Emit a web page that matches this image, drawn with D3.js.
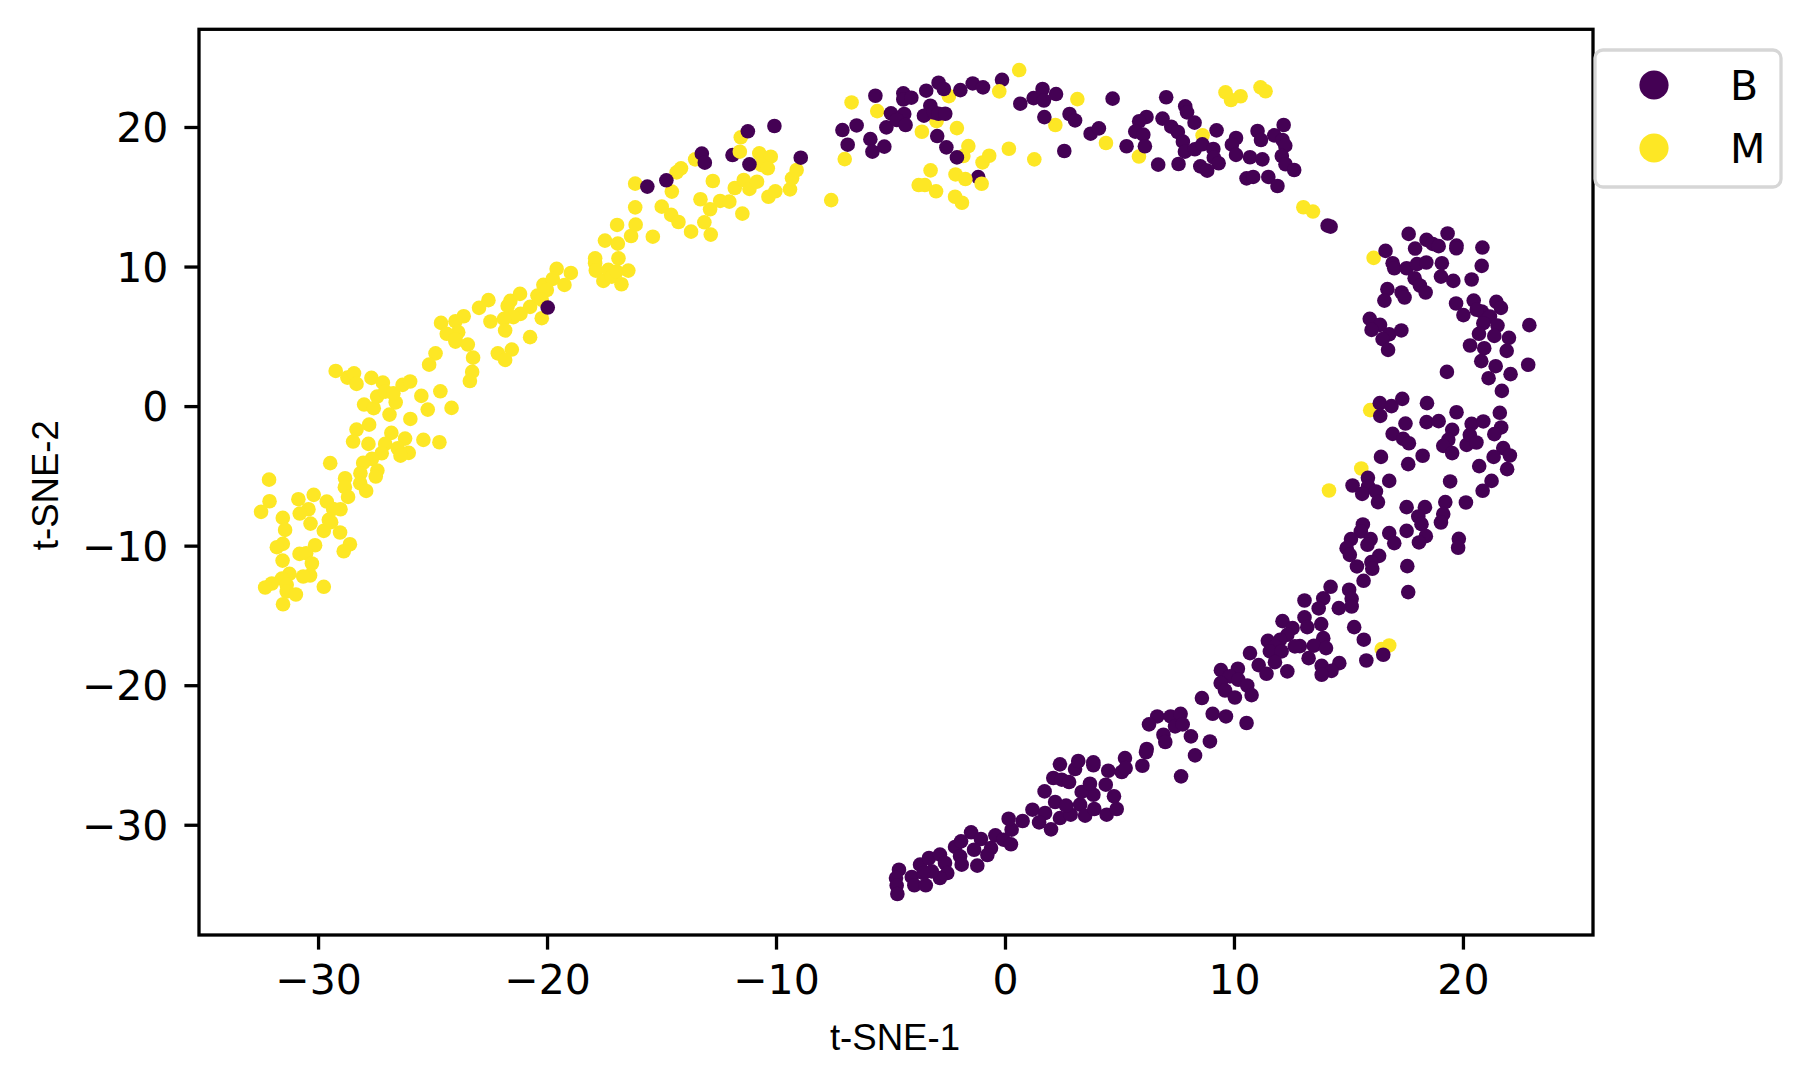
<!DOCTYPE html>
<html>
<head>
<meta charset="utf-8">
<script src="https://cdn.jsdelivr.net/npm/d3@7"></script>
<style>
    body { margin: 0; background: #fff; }
    svg { display: block; }
</style>
</head>
<body>
<svg id="chart"></svg>
<script>
const categories = ["B", "M"];
const colors = ["#440154", "#fde725"];
const xTicks = [-30, -20, -10, 0, 10, 20];
const yTicks = [-30, -20, -10, 0, 10, 20];
const xLabel = "t-SNE-1";
const yLabel = "t-SNE-2";

// Benign points sitting under the yellow ones
const benignUnder = [
    [-11.90,17.99],[-1.17,16.41],[-0.13,23.38]
];

const malignant = [
    [-29.23,2.52],[-28.72,2.04],[-28.43,2.35],[-28.32,1.59],[-27.67,2.02],[-27.17,1.68],[-27.99,0.11],[-27.57,-0.15],
    [-27.42,0.68],[-27.07,1.04],[-26.61,0.27],[-26.71,0.92],[-26.31,1.52],[-25.98,1.76],[-26.88,-0.61],[-25.97,-0.92],
    [-25.49,0.73],[-25.21,-0.25],[-24.66,1.06],[-24.17,-0.13],[-27.77,-1.33],[-28.32,-1.68],[-28.47,-2.54],[-27.80,-2.71],
    [-26.80,-1.92],[-27.07,-2.71],[-26.20,-2.33],[-25.40,-2.42],[-24.70,-2.59],[-26.52,-3.02],[-26.04,-3.35],[-26.40,-3.55],
    [-27.22,-3.38],[-27.65,-3.78],[-28.03,-4.07],[-29.47,-4.09],[-27.41,-4.62],[-27.48,-5.05],[-28.15,-4.81],[-28.82,-5.17],
    [-28.16,-5.53],[-27.90,-6.08],[-28.83,-5.81],[-28.69,-6.51],[-32.14,-5.27],[-32.12,-6.82],[-32.49,-7.58],[-30.86,-6.67],
    [-30.19,-6.36],[-29.62,-6.84],[-29.02,-7.39],[-29.34,-7.37],[-30.42,-7.39],[-30.80,-7.70],[-31.54,-8.01],[-31.44,-8.87],
    [-30.33,-8.42],[-29.43,-8.32],[-29.75,-8.94],[-29.04,-9.06],[-29.53,-8.15],[-31.54,-9.87],[-31.80,-10.11],[-30.13,-9.97],
    [-28.61,-9.90],[-28.88,-10.40],[-30.81,-10.59],[-30.52,-10.54],[-31.55,-11.07],[-30.27,-11.28],[-30.35,-12.14],[-30.65,-12.21],
    [-31.25,-12.02],[-31.58,-12.36],[-32.02,-12.71],[-32.31,-13.00],[-31.37,-12.81],[-31.37,-13.29],[-30.97,-13.50],[-31.53,-14.20],
    [-29.75,-12.95],[-24.87,3.78],[-25.15,2.97],[-23.23,3.47],[-23.27,2.45],[-23.37,1.80],[-22.15,3.78],[-21.54,4.05],
    [-21.83,3.31],[-24.00,4.62],[-23.46,4.41],[-22.56,7.59],[-22.97,7.04],[-22.47,6.06],[-21.60,7.54],[-21.18,8.04],
    [-21.72,7.18],[-20.74,7.11],[-21.16,6.61],[-21.47,6.37],[-21.88,6.25],[-21.83,5.42],[-20.74,4.94],[-20.23,6.30],
    [-20.42,7.92],[-20.16,8.69],[-23.64,6.44],[-24.00,6.08],[-24.63,5.96],[-23.88,5.30],[-24.38,5.18],[-24.00,4.77],
    [-19.58,9.83],[-18.96,9.54],[-19.75,9.11],[-19.24,8.68],[-20.01,8.32],[-20.23,7.61],[-17.90,10.59],[-17.90,10.23],
    [-17.87,9.71],[-17.54,8.97],[-17.32,9.76],[-17.17,9.28],[-16.88,10.59],[-16.96,9.64],[-16.45,9.71],[-16.75,8.73],
    [-17.47,11.86],[-16.91,11.64],[-16.33,12.19],[-16.13,13.00],[-16.94,12.98],[-15.38,12.14],[-16.15,14.24],[-16.15,15.94],
    [-14.99,14.29],[-14.58,13.70],[-14.26,13.19],[-13.71,12.50],[-13.13,13.17],[-12.85,12.29],[-13.30,14.82],[-12.88,14.10],
    [-12.44,14.70],[-12.04,14.65],[-11.47,13.79],[-14.55,15.37],[-14.34,16.75],[-14.15,17.04],[-13.53,17.68],[-12.76,16.13],
    [-11.80,15.63],[-11.41,16.20],[-11.16,15.56],[-10.83,16.08],[-11.58,18.23],[-11.54,19.26],[-10.73,18.11],[-10.23,17.87],
    [-10.65,17.28],[-10.36,17.04],[-10.33,15.00],[-10.03,15.39],[-9.39,15.53],[-9.30,16.32],[-9.10,16.92],
    [-6.70,21.76],[-5.58,21.14],[-7.00,17.70],[-7.59,14.76],[-3.63,19.66],[-2.99,20.42],[-2.45,22.21],[-2.10,19.92],
    [-1.60,18.63],[-1.82,17.92],[-0.98,17.46],[-0.69,17.94],[0.17,18.44],[1.28,17.68],[-3.25,16.89],[-2.16,16.60],
    [-1.73,16.27],[-3.77,15.84],[-3.50,15.84],[-3.01,15.39],[-2.18,15.00],[-1.88,14.57],[-1.02,15.93],[-0.25,22.55],
    [0.62,24.08],[3.16,22.00],[2.20,20.14],[4.41,18.85],[5.85,17.88],[8.63,19.40],[9.63,22.48],[9.87,21.93],
    [10.29,22.20],[11.16,22.84],[11.38,22.56],[13.03,14.25],[13.45,13.94],[16.10,10.62],[15.95,-0.29],[15.56,-4.47],
    [14.15,-6.05],[16.78,-17.15],[16.45,-17.41]
];

const benign = [
    [-19.97,7.06],[-15.62,15.73],[-14.79,16.18],[-13.24,18.09],[-13.11,17.44],[-11.23,19.69],[-10.07,20.07],[-11.16,17.32],
    [-8.92,17.80],[-5.66,22.24],[-7.10,19.78],[-6.48,20.11],[-6.87,18.73],[-5.88,19.13],[-5.79,18.23],[-5.27,18.59],
    [-5.18,19.97],[-4.98,20.98],[-4.40,20.93],[-4.73,20.50],[-4.34,20.14],[-4.44,22.41],[-4.44,21.97],[-4.09,22.10],
    [-3.44,22.60],[-2.90,23.17],[-2.67,22.72],[-1.95,22.64],[-1.41,23.12],[-0.96,22.84],[-3.26,21.52],[-3.54,20.81],
    [-3.10,21.04],[-2.90,20.95],[-2.61,20.95],[-2.96,19.35],[-2.56,18.54],[-2.10,17.82],[0.67,21.67],[1.25,22.07],
    [1.64,22.72],[1.70,21.90],[2.23,22.36],[1.72,20.71],[2.82,20.93],[3.06,20.47],[2.59,18.28],[3.74,19.52],
    [4.10,19.90],[4.70,22.03],[7.04,22.13],[7.87,21.48],[7.95,21.05],[8.28,20.31],[9.24,19.76],[6.18,20.72],
    [5.86,20.41],[6.88,20.60],[5.69,19.67],[6.04,19.45],[6.11,18.62],[5.31,18.62],[6.69,17.30],[7.26,20.02],
    [7.55,19.64],[7.77,18.95],[7.86,18.23],[8.29,18.40],[8.62,18.76],[9.10,18.42],[9.12,17.80],[9.33,17.40],
    [8.53,17.18],[8.83,16.87],[7.58,17.35],[10.09,19.21],[9.91,18.73],[10.09,18.00],[10.70,17.83],[11.24,17.68],
    [11.03,19.71],[11.18,19.07],[11.76,19.40],[12.17,20.14],[12.12,19.07],[12.24,18.66],[12.09,17.92],[12.25,17.33],
    [12.63,16.92],[10.55,16.32],[10.84,16.42],[11.50,16.42],[11.90,15.77],[14.09,12.93],[14.22,12.86],
    [16.62,11.12],[17.63,12.34],[18.41,11.91],[18.68,11.62],[18.94,11.46],[19.33,12.37],[19.72,11.50],[19.71,11.31],
    [20.85,11.36],[20.82,10.05],[17.91,11.29],[16.93,10.24],[17.00,9.88],[17.54,9.88],[17.99,10.17],[18.40,10.29],
    [19.08,10.24],[19.04,9.28],[19.58,8.97],[20.38,9.07],[17.89,9.16],[18.12,8.64],[18.37,8.14],[16.70,8.38],
    [16.57,7.56],[17.32,8.14],[17.45,7.78],[19.70,7.35],[20.47,7.56],[21.46,7.47],[21.66,7.04],[20.82,6.78],
    [20.02,6.52],[21.18,6.42],[20.60,6.90],[20.89,5.94],[21.51,5.77],[22.90,5.80],[20.70,5.18],[21.37,5.03],
    [22.01,4.89],[21.91,3.96],[20.31,4.34],[20.93,4.15],[20.80,3.22],[21.43,2.86],[22.85,2.96],[22.08,2.29],
    [21.12,2.00],[19.30,2.45],[21.70,1.09],[15.93,6.25],[16.38,5.82],[16.01,5.46],[16.78,5.15],[16.49,4.80],
    [17.31,5.42],[16.73,4.03],
    [16.37,0.21],[16.88,0.00],[17.35,0.52],[18.43,0.21],[16.39,-0.70],[17.49,-1.25],[18.41,-1.15],[18.94,-1.08],
    [19.72,-0.44],[21.61,-0.48],[20.38,-1.27],[20.89,-1.10],[19.53,-1.70],[16.93,-1.99],[17.39,-2.35],[17.64,-2.66],
    [16.42,-3.64],[17.61,-4.16],[18.24,-3.56],[21.67,-1.53],[21.37,-2.01],[19.36,-2.42],[19.14,-2.85],[19.53,-3.37],
    [20.16,-2.78],[20.30,-2.06],[20.59,-2.61],[21.76,-3.01],[22.05,-3.54],[21.34,-3.64],[20.71,-4.30],[21.93,-4.52],
    [21.25,-5.36],[20.86,-6.07],[19.44,-5.40],[16.78,-5.36],[15.85,-5.14],[15.18,-5.69],[15.86,-5.76],[15.60,-6.29],
    [16.20,-6.12],[16.29,-6.88],[20.13,-6.91],[19.23,-6.88],[17.54,-7.24],[18.34,-7.24],[19.14,-7.74],[18.05,-7.91],
    [18.19,-8.46],[19.04,-8.34],[15.63,-8.48],[15.54,-8.98],[17.54,-8.94],[16.78,-9.10],[17.00,-9.82],[18.38,-9.32],
    [18.08,-9.77],[19.82,-9.51],[19.79,-10.15],[15.11,-9.53],[15.97,-9.53],[15.83,-9.94],[14.92,-10.18],[15.06,-10.66],
    [16.34,-10.73],[16.00,-11.18],[15.37,-11.49],[16.04,-11.66],[17.57,-11.47],[15.66,-12.52],[17.61,-13.33],[14.22,-12.95],
    [15.03,-13.16],[15.14,-13.81],[13.90,-13.78],[13.08,-13.93],[15.14,-14.36],[14.58,-14.48],[13.70,-14.50],[13.08,-15.14],
    [13.20,-15.84],[13.81,-15.62],[15.25,-15.84],[15.67,-16.74],[13.90,-16.63],[13.49,-17.17],[14.02,-17.34],[13.26,-18.06],
    [15.78,-18.23],[16.52,-17.82],[14.60,-18.42],[13.83,-18.61],[14.26,-18.97],[13.83,-19.25],[12.88,-17.20],
    [12.12,-15.41],[12.56,-15.91],[12.33,-16.39],[11.48,-16.82],[12.01,-16.75],[11.79,-17.22],[11.57,-17.58],[12.08,-17.58],
    [11.79,-18.35],[12.66,-17.22],[12.33,-19.01],[11.08,-18.56],[11.42,-19.18],[10.70,-17.70],[9.43,-18.92],[10.17,-18.82],
    [9.82,-19.37],[9.42,-19.85],[10.19,-19.61],[9.61,-20.38],[10.58,-20.02],[10.77,-20.71],[10.04,-20.88],[8.60,-20.92],
    [6.65,-22.24],[7.23,-22.24],[7.67,-22.05],[9.07,-22.05],[9.65,-22.24],[10.55,-22.71],
    [-4.63,-33.22],[-4.76,-33.82],[-4.73,-34.36],[-4.70,-34.96],[-4.07,-33.74],[-3.96,-34.34],[-3.46,-34.34],[-3.71,-32.86],
    [-3.32,-32.38],[-2.84,-32.14],[-2.62,-32.74],[-2.52,-33.46],[-2.84,-33.82],[-3.20,-33.34],[-3.56,-33.46],[-2.18,-31.59],
    [-1.92,-31.19],[-1.48,-30.54],[-1.05,-31.02],[-1.35,-31.79],[-1.96,-32.26],[-1.89,-32.86],[-1.21,-32.93],[-0.61,-31.67],
    [-0.77,-32.17],[-0.42,-30.76],[-0.07,-31.07],[0.26,-31.40],[0.29,-30.35],[0.16,-29.57],[0.77,-29.73],[1.20,-28.92],
    [1.75,-29.16],[1.49,-29.83],[2.01,-30.33],[2.40,-29.52],[2.87,-29.28],[2.19,-28.37],[2.67,-28.63],[3.28,-28.56],
    [3.50,-29.35],[3.90,-28.87],[4.44,-29.28],[4.88,-28.87],[4.76,-27.96],[3.86,-27.85],[3.35,-27.65],[3.71,-27.06],
    [4.40,-27.13],[1.73,-27.61],[2.11,-26.65],[2.48,-26.77],[2.80,-26.94],[2.40,-25.67],[3.06,-26.01],[3.20,-25.43],
    [3.86,-25.53],[3.86,-25.74],[4.51,-26.13],[5.10,-26.22],[5.24,-25.22],[5.27,-25.94],[6.00,-25.77],[6.19,-24.57],
    [6.16,-24.81],[6.29,-22.81],[6.92,-23.55],[7.00,-24.07],[7.43,-22.95],[7.76,-22.81],[8.12,-23.67],[8.30,-25.03],
    [8.95,-24.03],[7.69,-26.53]
];

const width = 1811, height = 1087;
const margin = { top: 29.3, right: 218, bottom: 152, left: 199 };
const tickFont = "'DejaVu Sans', sans-serif";
const labelFont = "'Liberation Sans', Arial, sans-serif";

const svg = d3.select("#chart")
    .attr("width", width)
    .attr("height", height);

const scaleX = d3.scaleLinear()
    .domain([-35.2, 25.68])
    .range([margin.left, width - margin.right]);

const scaleY = d3.scaleLinear()
    .domain([-37.9, 27])
    .range([height - margin.bottom, margin.top]);

function addPoints(points, color) {
    svg.append("g")
        .selectAll("circle")
        .data(points).enter()
        .append("circle")
        .attr("cx", d => scaleX(d[0]))
        .attr("cy", d => scaleY(d[1]))
        .attr("r", 7.3)
        .attr("fill", color);
}

addPoints(benignUnder, colors[0]);
addPoints(malignant, colors[1]);
addPoints(benign, colors[0]);

const axisX = d3.axisBottom(scaleX).tickValues(xTicks).tickSize(14.6).tickPadding(15).tickSizeOuter(0);
const axisY = d3.axisLeft(scaleY).tickValues(yTicks).tickSize(14.6).tickPadding(16).tickSizeOuter(0);

function styleAxis(g) {
    g.selectAll(".domain").remove();
    g.selectAll("line").attr("stroke", "#000").attr("stroke-width", 3.3);
    g.selectAll("text")
        .attr("fill", "#000")
        .style("font-family", tickFont)
        .style("font-size", "41px");
}

svg.append("g")
    .attr("transform", "translate(0," + (height - margin.bottom) + ")")
    .call(axisX)
    .call(styleAxis);

const yAxisGroup = svg.append("g")
    .attr("transform", "translate(" + margin.left + ",0)")
    .call(axisY)
    .call(styleAxis);

yAxisGroup.selectAll("text").attr("dy", "0.36em");

// Frame of the axes
svg.append("rect")
    .attr("x", margin.left)
    .attr("y", margin.top)
    .attr("width", width - margin.left - margin.right)
    .attr("height", height - margin.top - margin.bottom)
    .attr("fill", "none")
    .attr("stroke", "#000")
    .attr("stroke-width", 3.3);

svg.append("text")
    .attr("text-anchor", "middle")
    .attr("x", (margin.left + width - margin.right) / 2 - 1)
    .attr("y", 1050)
    .style("font-family", labelFont)
    .style("font-size", "36.6px")
    .text(xLabel);

svg.append("text")
    .attr("text-anchor", "middle")
    .attr("transform", "translate(58," + ((margin.top + height - margin.bottom) / 2 + 3) + ") rotate(-90)")
    .style("font-family", labelFont)
    .style("font-size", "36.6px")
    .text(yLabel);

const legend = svg.append("g");

legend.append("rect")
    .attr("x", 1595)
    .attr("y", 50)
    .attr("width", 186)
    .attr("height", 137)
    .attr("rx", 8)
    .attr("fill", "#fff")
    .attr("fill-opacity", 0.8)
    .attr("stroke", "#d6d6d6")
    .attr("stroke-width", 3.3);

categories.forEach((c, i) => {
    legend.append("circle")
        .attr("cx", 1654)
        .attr("cy", 85 + i * 63)
        .attr("r", 14.6)
        .attr("fill", colors[i]);

    legend.append("text")
        .attr("x", 1730)
        .attr("y", 100 + i * 62.5)
        .style("font-family", tickFont)
        .style("font-size", "41px")
        .text(c);
});
</script>
</body>
</html>
